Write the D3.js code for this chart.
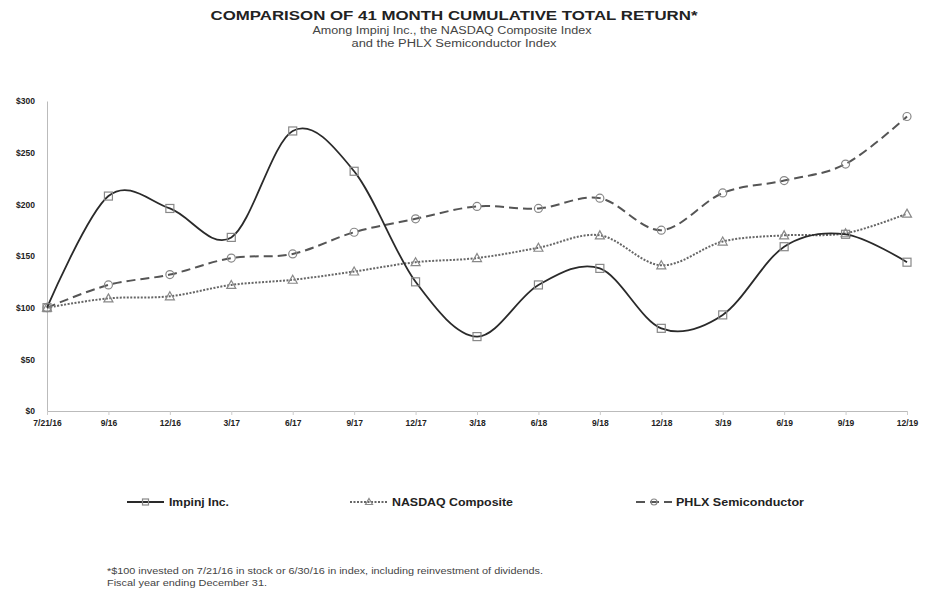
<!DOCTYPE html>
<html><head><meta charset="utf-8">
<script src="https://cdn.jsdelivr.net/npm/d3@7"></script>
<style>body{margin:0;background:#fff}svg{display:block}text{font-family:"Liberation Sans",Arial,sans-serif}</style>
</head><body>
<script>
const categories = ["7/21/16","9/16","12/16","3/17","6/17","9/17","12/17","3/18","6/18","9/18","12/18","3/19","6/19","9/19","12/19"];
const impinj = [100,208,196,168,271,232,125,72,122,138,80,93,159,171,144];
const nasdaq = [100,109,111,122,127,135,144,148,158,170,141,164,170,172,191];
const phlx = [100,122,132,148,152,173,186,198,196,206,175,211,223,239,285];
const yTicks = [0,50,100,150,200,250,300];
const seriesNames = ["Impinj Inc.","NASDAQ Composite","PHLX Semiconductor"];

const W=926,H=596;
const svg=d3.select("body").append("svg").attr("width",W).attr("height",H);
const x=d3.scalePoint().domain(categories).range([47,907]);
const y=d3.scaleLinear().domain([0,300]).range([411,101]);

// title
svg.append("text").attr("x",454).attr("y",20).attr("text-anchor","middle")
  .attr("font-weight","bold").attr("font-size",13.5).attr("textLength",487).attr("lengthAdjust","spacingAndGlyphs")
  .attr("fill","#222").text("COMPARISON OF 41 MONTH CUMULATIVE TOTAL RETURN*");
svg.append("text").attr("x",452).attr("y",34).attr("text-anchor","middle").attr("font-size",10).attr("fill","#444")
  .attr("textLength",279).attr("lengthAdjust","spacingAndGlyphs")
  .text("Among Impinj Inc., the NASDAQ Composite Index");
svg.append("text").attr("x",454).attr("y",47).attr("text-anchor","middle").attr("font-size",10).attr("fill","#444")
  .attr("textLength",205).attr("lengthAdjust","spacingAndGlyphs")
  .text("and the PHLX Semiconductor Index");

// axes
const yAx=svg.append("g").attr("transform","translate(47,0)")
  .call(d3.axisLeft(y).tickValues(yTicks).tickSize(0).tickPadding(12).tickFormat(d=>"$"+d));
yAx.select(".domain").attr("stroke","#bbb");
yAx.selectAll("text").attr("font-family","Liberation Sans, Arial").attr("font-weight","bold").attr("font-size",8.5).attr("fill","#222");
const xAx=svg.append("g").attr("transform","translate(0,411)")
  .call(d3.axisBottom(x).tickSize(4).tickPadding(5));
xAx.select(".domain").attr("stroke","#bbb");
xAx.selectAll("line").attr("stroke","#ccc");
xAx.selectAll("text").attr("font-family","Liberation Sans, Arial").attr("font-weight","bold").attr("font-size",8.5).attr("fill","#222");

const line=d3.line().x((d,i)=>x(categories[i])).y(d=>y(d)).curve(d3.curveCardinal.tension(0));
const styles=[
  {data:impinj,stroke:"#2a2a2a",dash:null,w:1.8,marker:"square"},
  {data:nasdaq,stroke:"#666",dash:"2,1.5",w:2,marker:"triangle"},
  {data:phlx,stroke:"#555",dash:"9,5",w:2,marker:"circle"}
];
function drawMarker(g,type,cx,cy,sz){
  const s=sz||4;
  if(type==="square") g.append("rect").attr("x",cx-s).attr("y",cy-s).attr("width",2*s).attr("height",2*s).attr("fill","none").attr("stroke","#888").attr("stroke-width",1.2);
  else if(type==="triangle") g.append("path").attr("d",`M${cx},${cy-s-0.5}L${cx+s+0.5},${cy+s-0.5}L${cx-s-0.5},${cy+s-0.5}Z`).attr("fill","none").attr("stroke","#888").attr("stroke-width",1.2);
  else g.append("circle").attr("cx",cx).attr("cy",cy).attr("r",s).attr("fill","none").attr("stroke","#888").attr("stroke-width",1.2);
}
styles.slice().reverse().forEach(s=>{
  svg.append("path").datum(s.data).attr("d",line).attr("fill","none").attr("stroke",s.stroke)
    .attr("stroke-width",s.w).attr("stroke-dasharray",s.dash);
  const g=svg.append("g");
  s.data.forEach((v,i)=>drawMarker(g,s.marker,x(categories[i]),y(v)));
});

// legend
const legX=[[127,164,169,60],[350,388,392,121],[636,672,676,128]];
styles.forEach((s,i)=>{
  const [a,b,t,len]=legX[i];
  svg.append("line").attr("x1",a).attr("x2",b).attr("y1",502).attr("y2",502).attr("stroke",s.stroke).attr("stroke-width",s.w).attr("stroke-dasharray",s.dash);
  const g=svg.append("g");
  drawMarker(g,s.marker,(a+b)/2,502,3);
  svg.append("text").attr("x",t).attr("y",506).attr("font-weight","bold").attr("font-size",11).attr("fill","#222")
    .attr("textLength",len).attr("lengthAdjust","spacingAndGlyphs").text(seriesNames[i]);
});

// footnote
svg.append("text").attr("x",107).attr("y",574).attr("font-size",9.5).attr("fill","#444").attr("textLength",436).attr("lengthAdjust","spacingAndGlyphs")
  .text("*$100 invested on 7/21/16 in stock or 6/30/16 in index, including reinvestment of dividends.");
svg.append("text").attr("x",107).attr("y",586).attr("font-size",9.5).attr("fill","#444").attr("textLength",160).attr("lengthAdjust","spacingAndGlyphs")
  .text("Fiscal year ending December 31.");
</script>
</body></html>
